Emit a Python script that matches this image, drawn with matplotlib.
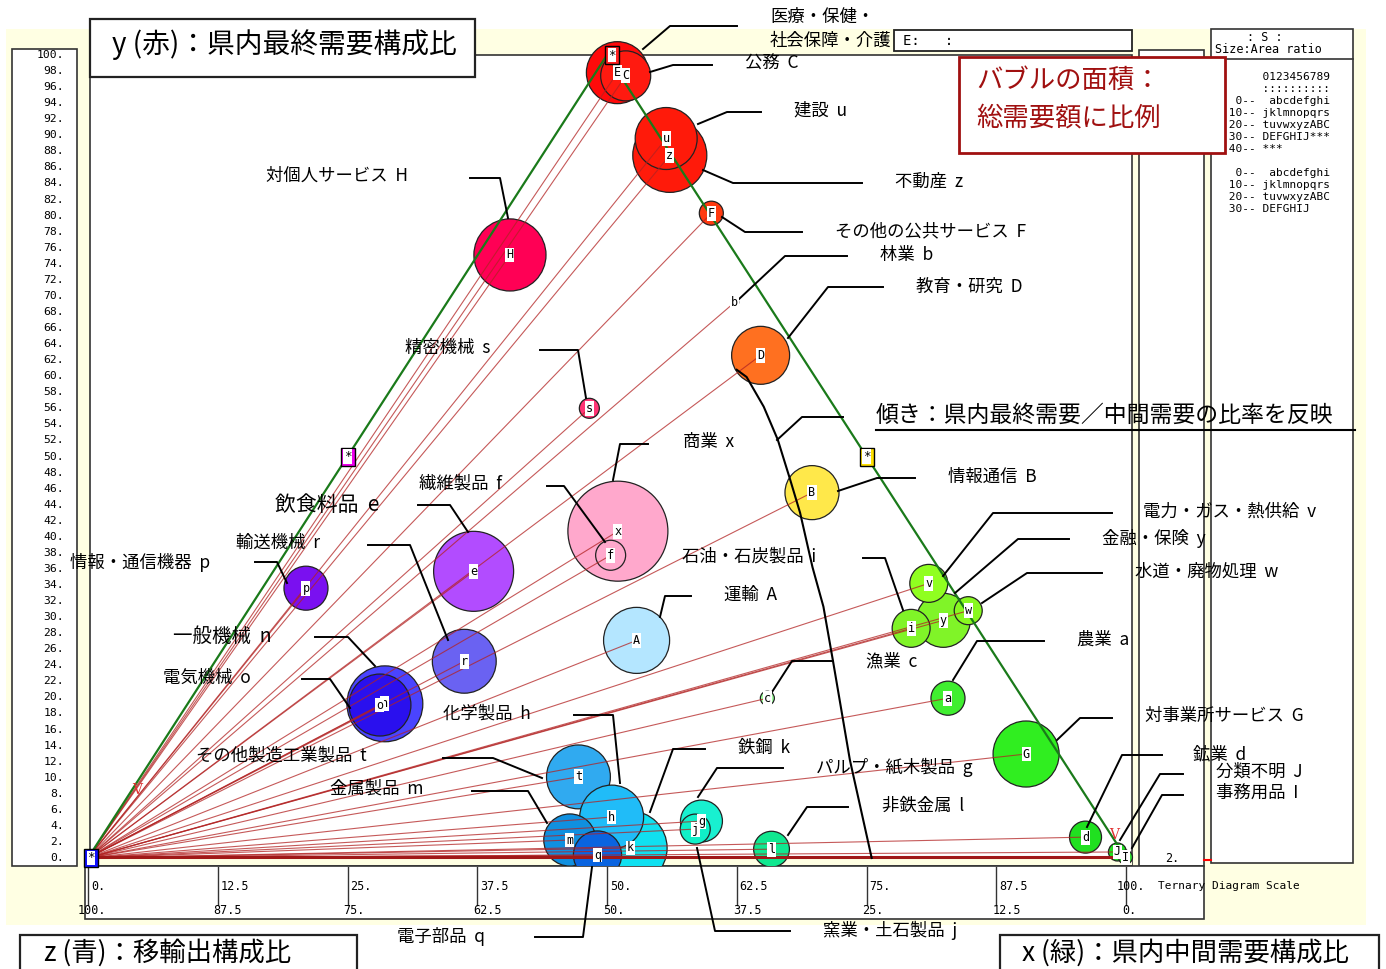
import numpy as np
import matplotlib
matplotlib.use('Agg')
import matplotlib.pyplot as plt
from matplotlib.patches import Circle, Rectangle

plt.rcParams['font.family'] = ['Noto Sans CJK JP', 'DejaVu Sans']
MONO = 'DejaVu Sans Mono'

# --- data: sector code, name, ternary shares (%), bubble area (relative total demand)
codes = ['E', 'C', 'u', 'z', 'F', 'H', 'b', 'D', 's', 'x', 'f', 'e', 'p', 'r', 'A', 'B', 'n', 'o',
         'c', 'a', 'G', 'd', 'J', 'I', 'v', 'y', 'w', 'i', 't', 'h', 'k', 'm', 'q', 'j', 'g', 'l']
names = ['医療・保健・\n社会保障・介護', '公務', '建設', '不動産', 'その他の公共サービス', '対個人サービス',
         '林業', '教育・研究', '精密機械', '商業', '繊維製品', '飲食料品', '情報・通信機器', '輸送機械',
         '運輸', '情報通信', '一般機械', '電気機械', '漁業', '農業', '対事業所サービス', '鉱業',
         '分類不明', '事務用品', '電力・ガス・熱供給', '金融・保険', '水道・廃物処理', '石油・石炭製品',
         'その他製造工業製品', '化学製品', '鉄鋼', '金属製品', '電子部品', '窯業・土石製品',
         'パルプ・紙木製品', '非鉄金属']
x_share = [2.1, 3.1, 10.9, 12.3, 19.9, 3.1, 27.7, 33.5, 20.3, 30.7, 31.5, 19.3, 4.2, 24.0, 39.3, 47.0,
           19.0, 18.6, 55.5, 72.9, 83.9, 94.8, 98.8, 99.9, 63.9, 67.6, 69.4, 65.0, 42.2, 47.9, 51.6,
           45.3, 48.9, 56.7, 56.8, 65.3]
y_share = [97.8, 97.4, 89.6, 87.5, 80.3, 75.1, 69.2, 62.6, 56.0, 40.7, 37.7, 35.7, 33.6, 24.5, 27.1,
           45.5, 19.2, 19.05, 19.9, 19.9, 12.95, 2.6, 0.75, 0.1, 34.2, 29.6, 30.8, 28.6, 10.1, 5.1,
           1.25, 2.24, 0.37, 3.6, 4.6, 1.1]
size = [9.6, 6.25, 9.6, 13.7, 1.44, 13.0, 0.16, 8.4, 1.0, 25.0, 2.25, 16.0, 4.84, 10.2, 10.9, 7.3,
        14.4, 9.6, 0.49, 2.9, 10.9, 2.56, 0.81, 0.49, 3.6, 7.3, 1.96, 3.6, 10.2, 10.2, 13.7, 6.8,
        5.8, 2.25, 4.4, 3.2]
colors = ['#ff0a0a', '#ff1a10', '#ff1a0a', '#ff1a0a', '#ff3a10', '#ff0055', '#ff7020', '#ff7020',
          '#ff3575', '#ffa8cc', '#ffa8cc', '#b24cff', '#7a10f0', '#6a62f2', '#b4e6ff', '#ffe84a',
          '#4a44ff', '#2a10ee', '#a0ffa0', '#40ee30', '#30ee20', '#20e020', '#20e020', '#30e030',
          '#90ff20', '#80f428', '#88f820', '#80f428', '#30aaf0', '#20bcf8', '#10e0f0', '#1090e0',
          '#0a64e0', '#10f0c8', '#18f0d0', '#10e890']

# guide curve (ternary x, y)
curve_x = [32.1, 33.5, 37.0, 40.4, 44.1, 47.1, 51.7, 55.2, 59.4, 67.3, 75.5]
curve_y = [60.8, 59.9, 56.2, 52.1, 47.1, 43.0, 36.2, 31.3, 24.7, 12.2, 0.0]

left_ticks = np.arange(0, 101, 2)
bottom_ticks = [0, 12.5, 25, 37.5, 50, 62.5, 75, 87.5, 100]
bottom_top_lbl = ['0.', '12.5', '25.', '37.5', '50.', '62.5', '75.', '87.5', '100.']
bottom_bot_lbl = ['100.', '87.5', '75.', '62.5', '50.', '37.5', '25.', '12.5', '0.']

# --- layout (pixel positions of labels / leaders)
label_pos = {'E': (770, 29), 'C': (745, 64), 'u': (794, 110), 'z': (895, 182), 'F': (835, 231),
             'H': (266, 176), 'b': (880, 255), 'D': (916, 287), 's': (405, 348), 'x': (683, 442),
             'f': (419, 484), 'e': (275, 505), 'p': (70, 562), 'r': (236, 543), 'A': (724, 595),
             'B': (948, 477), 'n': (173, 636), 'o': (163, 678), 'c': (866, 661), 'a': (1077, 640),
             'G': (1145, 716), 'd': (1193, 754), 'J': (1216, 772), 'I': (1216, 793), 'v': (1143, 512),
             'y': (1102, 538), 'w': (1135, 572), 'i': (682, 557), 't': (196, 756), 'h': (443, 714),
             'k': (738, 748), 'm': (330, 789), 'q': (397, 936), 'j': (823, 930), 'g': (816, 767),
             'l': (882, 806)}
label_fs = {'e': 15, 'n': 14}
leaders = {'E': [(737, 26), (670, 26), (643, 49)], 'C': [(712, 65), (673, 65), (650, 72)],
           'u': [(761, 112), (727, 112), (698, 124)], 'z': [(862, 183), (733, 183), (703, 170)],
           'F': [(802, 232), (745, 232), (722, 217)], 'H': [(470, 178), (500, 178), (508, 218)],
           'b': [(847, 256), (785, 256), (738, 300)], 'D': [(883, 287), (828, 287), (788, 338)],
           's': [(540, 350), (578, 350), (586, 398)], 'x': [(648, 444), (620, 444), (613, 480)],
           'f': [(547, 486), (564, 486), (605, 542)], 'e': [(418, 505), (450, 505), (468, 532)],
           'p': [(255, 562), (277, 562), (287, 583)], 'r': [(368, 545), (410, 545), (448, 640)],
           'A': [(691, 596), (665, 596), (660, 617)], 'B': [(915, 478), (877, 478), (838, 491)],
           'n': [(315, 637), (348, 637), (375, 666)], 'o': [(302, 679), (330, 679), (350, 708)],
           'c': [(833, 661), (792, 661), (772, 692)], 'a': [(1044, 641), (977, 641), (953, 680)],
           'G': [(1112, 718), (1080, 718), (1057, 740)], 'd': [(1162, 755), (1122, 755), (1087, 827)],
           'J': [(1183, 774), (1160, 774), (1120, 840)], 'I': [(1183, 795), (1162, 795), (1132, 848)],
           'v': [(1112, 513), (993, 513), (943, 576)], 'y': [(1069, 539), (1018, 539), (955, 593)],
           'w': [(1102, 573), (1027, 573), (982, 603)], 'i': [(863, 558), (885, 558), (903, 610)],
           't': [(443, 758), (493, 758), (542, 778)], 'h': [(574, 715), (613, 715), (620, 783)],
           'k': [(705, 749), (673, 749), (650, 812)], 'm': [(472, 791), (528, 791), (547, 823)],
           'q': [(535, 937), (583, 937), (592, 867)], 'j': [(790, 931), (715, 931), (697, 848)],
           'g': [(783, 768), (717, 768), (698, 797)], 'l': [(848, 807), (807, 807), (788, 835)]}

X0, X1, YB, YT = 88, 1126, 858, 55


def tern(x, y):
    x = np.asarray(x, float)
    y = np.asarray(y, float)
    return X0 + (x + y / 2) / 100 * (X1 - X0), YB - y / 100 * (YB - YT)


fig = plt.figure(figsize=(13.86, 9.69), dpi=100)
ax = fig.add_axes([0, 0, 1, 1])
ax.set_xlim(0, 1386)
ax.set_ylim(969, 0)
ax.axis('off')

BEIGE = '#ffffe3'
ax.add_patch(Rectangle((6, 29), 1360, 896, fc=BEIGE, ec='none', zorder=0))
# panels
ax.add_patch(Rectangle((12, 49), 65, 817, fc='white', ec='#333', lw=1.2, zorder=1))
ax.add_patch(Rectangle((90, 55), 1042, 811, fc='white', ec='#333', lw=1.2, zorder=1))
ax.add_patch(Rectangle((1139, 50), 65, 816, fc='white', ec='#333', lw=1.2, zorder=1))
ax.add_patch(Rectangle((1211, 29), 142, 834, fc='white', ec='#333', lw=1.2, zorder=1))
ax.plot([1211, 1353], [59, 59], color='#333', lw=1.2, zorder=2)
ax.add_patch(Rectangle((85, 866), 1119, 53, fc='white', ec='#333', lw=1.2, zorder=1))
ax.add_patch(Rectangle((90, 859), 1042, 6, fc=BEIGE, ec='none', zorder=1))
ax.plot([1204, 1211], [860, 860], color='red', lw=1.5, zorder=2)
ax.text(1172, 858, '2.', fontsize=8.5, family=MONO, ha='center', va='center', zorder=3)

# left scale
for v in left_ticks:
    ax.text(64, YB - v / 100 * (YB - YT), f'{v}.', family=MONO, fontsize=8.2,
            ha='right', va='center', zorder=3)

# bottom scale
for v, t1, t2 in zip(bottom_ticks, bottom_top_lbl, bottom_bot_lbl):
    px = X0 + v / 100 * (X1 - X0)
    ax.plot([px, px], [867, 905], color='#333', lw=1, zorder=3)
    ax.text(px + (-9 if t1 == '100.' else 3), 886, t1, family=MONO, fontsize=8.5,
            ha='left', va='center', zorder=3)
    ax.text(px - (10 if t2 == '100.' else 4), 910, t2, family=MONO, fontsize=8.5,
            ha='left', va='center', zorder=3)
ax.text(1158, 886, 'Ternary Diagram Scale', family=MONO, fontsize=8, ha='left', va='center', zorder=3)

# triangle edges
ax_px, ax_py = tern(0, 100)
o_px, o_py = tern(0, 0)
r_px, r_py = tern(100, 0)
ax.plot([o_px, ax_px, r_px], [o_py, ax_py, r_py], color='#1a7a1a', lw=1.6, zorder=6)

# bubbles
px, py = tern(x_share, y_share)
rad = np.sqrt(size) * 10
clip = Rectangle((0, 0), 1386, 866, transform=ax.transData)
for k in np.argsort(-np.array(size)):
    c = Circle((px[k], py[k]), rad[k], fc=colors[k], ec='#222', lw=0.9, zorder=4)
    ax.add_patch(c)
    c.set_clip_path(clip)

# fan lines from the z=100 corner to every bubble
for k in range(len(codes)):
    ax.plot([o_px, px[k]], [o_py, py[k]], color='#b22222', lw=0.8, alpha=0.75, zorder=5)
ax.plot([o_px, r_px], [o_py - 1, r_py - 1], color='#a01818', lw=2.2, zorder=5)

# bubble letters
for k, cd in enumerate(codes):
    ax.text(px[k], py[k], cd, family=MONO, fontsize=8.5, ha='center', va='center', zorder=8,
            bbox=dict(boxstyle='square,pad=0.08', fc='white', ec='none'))

# guide curve
cx, cy = tern(curve_x, curve_y)
ax.plot(cx, cy, color='black', lw=1.5, zorder=6)
ax.plot([777, 802, 843], [440, 417, 417], color='black', lw=1.4, zorder=6)

# labels and leaders
for cd, nm in zip(codes, names):
    lx, ly = label_pos[cd]
    txt = nm if cd == 'E' else f'{nm}  {cd}'
    ax.text(lx, ly, txt, fontsize=label_fs.get(cd, 12.5), ha='left', va='center',
            linespacing=1.45, zorder=7)
    ln = leaders[cd]
    ax.plot([p[0] for p in ln], [p[1] for p in ln], color='black', lw=1.4, zorder=7)

# corner markers
for (mx, my), fc in [((o_px + 3, o_py), '#1010ff'), (tern(0, 50), '#ee00ee'),
                     (tern(50, 50), '#ffe000'), ((ax_px + 5, ax_py), '#ff2020')]:
    ax.add_patch(Rectangle((mx - 7, my - 9), 14, 18, fc=fc, ec='black', lw=1, zorder=9))
    ax.text(mx, my, '*', family=MONO, fontsize=9, ha='center', va='center', zorder=10,
            bbox=dict(boxstyle='square,pad=0.05', fc='white', ec='none'))
ax.text(137, 790, 'V', color='#e03030', fontsize=10, family='DejaVu Serif',
        ha='center', va='center', zorder=9)
ax.text(1114, 835, 'V', color='#e03030', fontsize=10, family='DejaVu Serif',
        ha='center', va='center', zorder=9)

# E box
ax.add_patch(Rectangle((894, 30), 238, 21, fc='white', ec='#222', lw=1.3, zorder=9))
ax.text(903, 41, 'E:   :', family=MONO, fontsize=10, ha='left', va='center', zorder=10)

# title boxes
ax.add_patch(Rectangle((90, 19), 385, 58, fc='white', ec='#222', lw=1.6, zorder=9))
ax.text(112, 45, 'y (赤)：県内最終需要構成比', fontsize=20, ha='left', va='center', zorder=10)
ax.add_patch(Rectangle((20, 935), 337, 50, fc='white', ec='#222', lw=1.6, zorder=9))
ax.text(44, 953, 'z (青)：移輸出構成比', fontsize=19, ha='left', va='center', zorder=10)
ax.add_patch(Rectangle((1000, 935), 379, 50, fc='white', ec='#222', lw=1.6, zorder=9))
ax.text(1022, 953, 'x (緑)：県内中間需要構成比', fontsize=19, ha='left', va='center', zorder=10)

ax.add_patch(Rectangle((959, 57), 266, 96, fc='white', ec='#a01010', lw=2, zorder=9))
ax.text(976, 80, 'バブルの面積：', color='#a01010', fontsize=19, ha='left', va='center', zorder=10)
ax.text(976, 118, '総需要額に比例', color='#a01010', fontsize=19, ha='left', va='center', zorder=10)

ax.text(876, 415, '傾き：県内最終需要／中間需要の比率を反映', fontsize=16.5, ha='left',
        va='center', zorder=10)
ax.plot([876, 1355], [430, 430], color='black', lw=1.5, zorder=10)

# right panel legend text
ax.text(1247, 37, ': S :', family=MONO, fontsize=8.5, ha='left', va='center', zorder=3)
ax.text(1215, 49, 'Size:Area ratio', family=MONO, fontsize=8.5, ha='left', va='center', zorder=3)
legend_lines = ['      0123456789', '      ::::::::::', '  0--  abcdefghi', ' 10-- jklmnopqrs',
                ' 20-- tuvwxyzABC', ' 30-- DEFGHIJ***', ' 40-- ***', '',
                '  0--  abcdefghi', ' 10-- jklmnopqrs', ' 20-- tuvwxyzABC', ' 30-- DEFGHIJ']
for i, s in enumerate(legend_lines):
    ax.text(1222, 77 + i * 12, s, family=MONO, fontsize=8, ha='left', va='center', zorder=3)

fig.savefig('out.png', dpi=100)
